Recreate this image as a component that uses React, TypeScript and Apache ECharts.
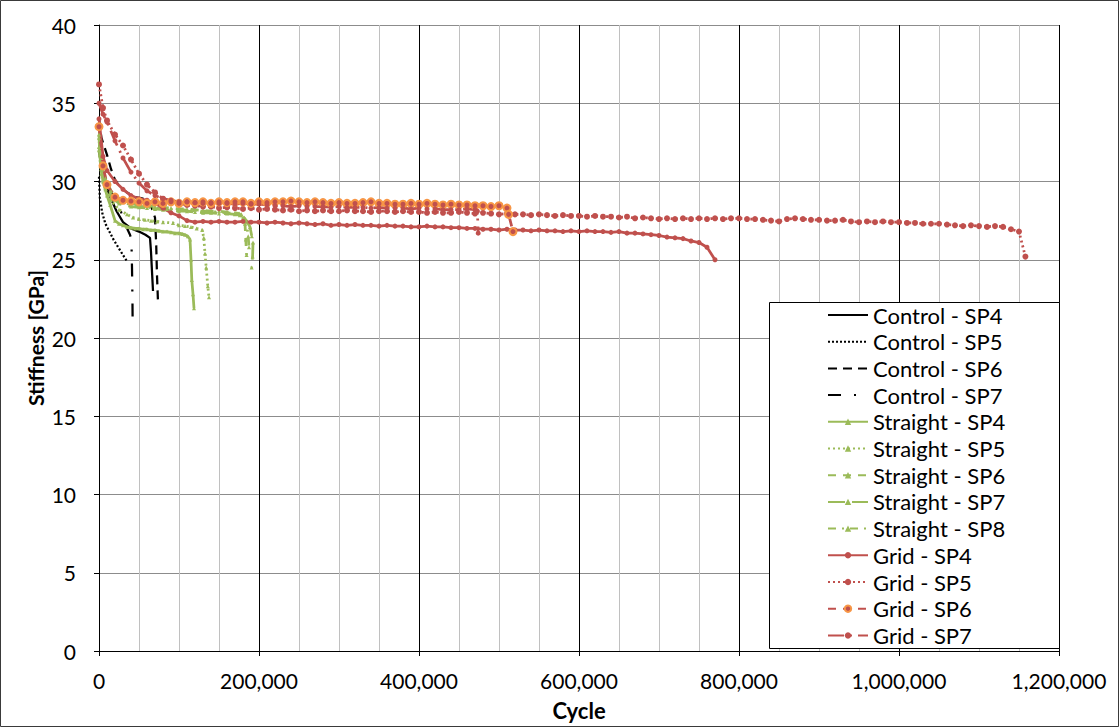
import React, { useEffect, useRef } from "react";
import * as echarts from "echarts";

type Pt = [number, number];

// ---------- axis ticks ----------
const xTickLabels = ["0", "200,000", "400,000", "600,000", "800,000", "1,000,000", "1,200,000"];
const yTickLabels = ["0", "5", "10", "15", "20", "25", "30", "35", "40"];

// ---------- Control ----------
const controlSP4: Pt[] = [[0, 32.5], [3000, 31.0], [8000, 29.8], [15000, 28.9], [22000, 28.1], [30000, 27.4], [40000, 27.0], [50000, 26.8], [58000, 26.6], [63750, 26.4], [65000, 25.5], [66500, 24.0], [67500, 23.0]];
const controlSP5: Pt[] = [[0, 30.3], [1000, 29.0], [4000, 28.0], [8000, 27.3], [12000, 26.9], [18000, 26.3], [24000, 25.8], [30000, 25.3], [35000, 24.9]];
const controlSP6: Pt[] = [[0, 34.0], [3000, 32.8], [10000, 31.7], [15000, 30.8], [20000, 30.1], [27000, 29.6], [35000, 29.3], [45000, 29.0], [55000, 28.9], [61000, 28.8], [66000, 28.3], [70000, 27.7], [71500, 26.0], [72500, 24.0], [73750, 22.3]];
const controlSP7: Pt[] = [[0, 32.0], [4000, 30.5], [10000, 29.8], [17000, 29.2], [23750, 28.6], [28000, 28.0], [32500, 27.4], [36000, 26.9], [38750, 26.6], [40500, 26.3], [41250, 24.5], [41800, 22.5], [42000, 21.3]];

// ---------- Straight ----------
const straightSP4: Pt[] = [[0, 32.8], [2000, 31.0], [5000, 30.0], [10000, 29.1], [14000, 28.5], [20000, 27.5], [25000, 27.3], [30000, 27.2], [35000, 27.1], [40000, 27.05], [45000, 27.0], [50000, 27.0], [55000, 26.95], [60000, 26.95], [65000, 26.9], [70000, 26.9], [75000, 26.85], [80000, 26.8], [85000, 26.8], [90000, 26.75], [95000, 26.7], [100000, 26.7], [104000, 26.65], [107500, 26.6], [111000, 26.5], [113750, 26.3], [115000, 25.0], [116000, 23.7], [117500, 22.8], [118750, 21.9]];
const straightSP5: Pt[] = [[0, 32.0], [3000, 30.5], [8000, 29.5], [15000, 28.8], [25000, 28.2], [35000, 27.9], [42500, 27.7], [50000, 27.6], [57500, 27.55], [65000, 27.5], [72500, 27.45], [80000, 27.4], [92500, 27.35], [100000, 27.2], [107500, 27.15], [115000, 27.1], [122000, 27.0], [129000, 26.9], [131000, 26.4], [132500, 25.4], [134000, 24.5], [136000, 23.3], [137500, 22.6]];
const straightSP6: Pt[] = [[0, 33.5], [3000, 31.5], [8000, 30.2], [15000, 29.4], [25000, 28.9], [40000, 28.6], [50000, 28.5], [60000, 28.45], [70000, 28.4], [80000, 28.35], [90000, 28.3], [100000, 28.25], [110000, 28.25], [120000, 28.2], [130000, 28.15], [140000, 28.1], [150000, 28.1], [160000, 28.05], [170000, 28.0], [175000, 27.95], [180000, 27.7], [182500, 27.3], [183500, 26.3], [184500, 25.3]];
const straightSP7: Pt[] = [[0, 32.2], [3000, 30.8], [8000, 29.6], [15000, 29.0], [25000, 28.6], [40000, 28.4], [50000, 28.35], [60000, 28.3], [70000, 28.25], [80000, 28.2], [90000, 28.15], [100000, 28.1], [110000, 28.1], [120000, 28.05], [130000, 28.0], [140000, 28.0], [150000, 27.95], [160000, 27.95], [170000, 27.9], [176000, 27.85], [183000, 27.6], [188750, 27.1], [191000, 26.5], [192500, 26.1], [192000, 25.2], [190800, 24.5]];
const straightSP8: Pt[] = [[0, 33.0], [3000, 31.2], [8000, 30.0], [15000, 29.2], [25000, 28.8], [40000, 28.5], [55000, 28.4], [70000, 28.3], [85000, 28.25], [100000, 28.2], [115000, 28.15], [130000, 28.1], [145000, 28.05], [160000, 28.0], [170000, 27.95], [178000, 27.9], [184000, 27.5], [186500, 26.5], [187500, 25.8]];

// ---------- Grid ----------
const gridSP4: Pt[] = [[0, 34.0], [5000, 31.6], [10000, 30.7], [20000, 30.0], [30000, 29.5], [40000, 29.1], [50000, 28.9], [60000, 28.8], [70000, 28.6], [80000, 28.3], [90000, 28.0], [100000, 27.8], [110000, 27.5], [120000, 27.4], [130000, 27.45], [140000, 27.4], [150000, 27.45], [160000, 27.4], [170000, 27.4], [180000, 27.45], [190000, 27.4], [200000, 27.4], [210000, 27.35], [220000, 27.4], [230000, 27.35], [240000, 27.3], [250000, 27.35], [260000, 27.3], [270000, 27.25], [280000, 27.3], [290000, 27.2], [300000, 27.25], [310000, 27.2], [320000, 27.25], [330000, 27.2], [340000, 27.2], [350000, 27.15], [360000, 27.2], [370000, 27.15], [380000, 27.15], [390000, 27.1], [400000, 27.1], [410000, 27.15], [420000, 27.1], [430000, 27.1], [440000, 27.05], [450000, 27.05], [460000, 27.0], [470000, 27.0], [480000, 26.95], [490000, 26.95], [500000, 26.9], [510000, 26.95], [520000, 26.9], [530000, 26.9], [540000, 26.85], [550000, 26.9], [560000, 26.85], [570000, 26.85], [580000, 26.8], [590000, 26.85], [600000, 26.8], [610000, 26.85], [620000, 26.8], [630000, 26.8], [640000, 26.75], [650000, 26.8], [660000, 26.7], [670000, 26.7], [680000, 26.65], [690000, 26.6], [700000, 26.55], [710000, 26.45], [720000, 26.4], [730000, 26.35], [740000, 26.2], [750000, 26.1], [760000, 25.8], [770000, 25.0]];
const gridSP5: Pt[] = [[0, 36.2], [5000, 34.7], [10000, 33.9], [20000, 33.0], [30000, 32.3], [40000, 31.4], [50000, 30.5], [60000, 29.8], [70000, 29.3], [80000, 28.9], [90000, 28.7], [100000, 28.6], [110000, 28.5], [120000, 28.45], [130000, 28.4], [140000, 28.4], [150000, 28.3], [160000, 28.35], [170000, 28.3], [180000, 28.25], [190000, 28.3], [200000, 28.2], [210000, 28.25], [220000, 28.2], [230000, 28.15], [240000, 28.2], [250000, 28.1], [260000, 28.15], [270000, 28.1], [280000, 28.15], [290000, 28.1], [300000, 28.1], [310000, 28.15], [320000, 28.1], [330000, 28.1], [340000, 28.05], [350000, 28.1], [360000, 28.1], [370000, 28.05], [380000, 28.1], [390000, 28.05], [400000, 28.05], [410000, 28.0], [420000, 28.05], [430000, 28.0], [440000, 28.0], [450000, 28.05], [460000, 28.0], [470000, 27.95], [480000, 28.0], [490000, 27.95], [500000, 27.9], [510000, 27.95], [520000, 27.9], [530000, 27.9], [540000, 27.85], [550000, 27.9], [560000, 27.85], [570000, 27.8], [580000, 27.85], [590000, 27.8], [600000, 27.8], [610000, 27.75], [620000, 27.8], [630000, 27.75], [640000, 27.75], [650000, 27.7], [660000, 27.75], [670000, 27.65], [680000, 27.7], [690000, 27.65], [700000, 27.6], [710000, 27.65], [720000, 27.6], [730000, 27.65], [740000, 27.6], [750000, 27.65], [760000, 27.6], [770000, 27.65], [780000, 27.6], [790000, 27.65], [800000, 27.65], [810000, 27.6], [820000, 27.6], [830000, 27.55], [840000, 27.5], [850000, 27.45], [860000, 27.6], [870000, 27.65], [880000, 27.6], [890000, 27.55], [900000, 27.55], [910000, 27.5], [920000, 27.5], [930000, 27.55], [940000, 27.45], [950000, 27.4], [960000, 27.45], [970000, 27.4], [980000, 27.45], [990000, 27.4], [1000000, 27.4], [1010000, 27.35], [1020000, 27.35], [1030000, 27.3], [1040000, 27.3], [1050000, 27.3], [1060000, 27.25], [1070000, 27.2], [1080000, 27.15], [1090000, 27.2], [1100000, 27.15], [1110000, 27.1], [1120000, 27.15], [1130000, 27.1], [1140000, 26.95], [1150000, 26.8], [1158000, 25.2]];
const gridSP6: Pt[] = [[0, 33.5], [5000, 31.0], [10000, 29.8], [20000, 29.0], [30000, 28.8], [40000, 28.75], [50000, 28.7], [60000, 28.6], [70000, 28.7], [80000, 28.6], [90000, 28.7], [100000, 28.6], [110000, 28.7], [120000, 28.65], [130000, 28.7], [140000, 28.6], [150000, 28.7], [160000, 28.65], [170000, 28.7], [180000, 28.7], [190000, 28.6], [200000, 28.7], [210000, 28.65], [220000, 28.7], [230000, 28.7], [240000, 28.75], [250000, 28.7], [260000, 28.65], [270000, 28.7], [280000, 28.65], [290000, 28.6], [300000, 28.65], [310000, 28.6], [320000, 28.6], [330000, 28.65], [340000, 28.7], [350000, 28.6], [360000, 28.6], [370000, 28.55], [380000, 28.55], [390000, 28.6], [400000, 28.55], [410000, 28.6], [420000, 28.55], [430000, 28.5], [440000, 28.55], [450000, 28.5], [460000, 28.5], [470000, 28.45], [480000, 28.45], [490000, 28.4], [500000, 28.45], [510000, 28.3], [512000, 27.9], [517500, 26.8]];
const gridSP7: Pt[] = [[0, 35.0], [5000, 34.3], [10000, 33.8], [20000, 32.6], [30000, 31.5], [40000, 30.6], [50000, 29.9], [60000, 29.4], [70000, 29.1], [80000, 28.9], [90000, 28.8], [100000, 28.7], [110000, 28.7], [120000, 28.65], [130000, 28.6], [140000, 28.65], [150000, 28.6], [160000, 28.6], [170000, 28.55], [180000, 28.6], [190000, 28.55], [200000, 28.55], [210000, 28.5], [220000, 28.45], [230000, 28.45], [240000, 28.4], [250000, 28.45], [260000, 28.4], [270000, 28.4], [280000, 28.4], [290000, 28.35], [300000, 28.4], [310000, 28.35], [320000, 28.35], [330000, 28.35], [340000, 28.3], [350000, 28.35], [360000, 28.3], [370000, 28.3], [380000, 28.3], [390000, 28.25], [400000, 28.3], [410000, 28.25], [420000, 28.25], [430000, 28.2], [440000, 28.2], [450000, 28.2], [460000, 28.25], [470000, 28.2], [473000, 28.1], [474000, 26.7]];

const BLACK = "#000000";
const GREEN = "#9BBB59";
const RED = "#C0504D";
const ORANGE = "#F79646";
const FONT = "Lato, 'Open Sans', sans-serif";

function line(name: string, data: Pt[], color: string, dash: number[] | "solid", width: number, symbol: string, size: number, item?: any) {
  return {
    name,
    type: "line",
    data,
    showSymbol: symbol !== "none",
    symbol,
    symbolSize: size,
    lineStyle: { color, width, type: dash, cap: "butt" },
    itemStyle: item || { color, borderWidth: 0 },
    emphasis: { disabled: true },
    z: 3,
  };
}

export default function App() {
  const ref = useRef<HTMLDivElement>(null);
  useEffect(() => {
    if (!ref.current) return;
    const chart = echarts.init(ref.current, null, { renderer: "svg" });
    const series = [
      line("Control - SP4", controlSP4, BLACK, "solid", 2.25, "none", 0),
      line("Control - SP5", controlSP5, BLACK, [2, 2], 2.25, "none", 0),
      line("Control - SP6", controlSP6, BLACK, [9, 6], 2.25, "none", 0),
      line("Control - SP7", controlSP7, BLACK, [13, 13, 2, 12], 2.25, "none", 0),
      line("Straight - SP4", straightSP4, GREEN, "solid", 2.75, "triangle", 4),
      line("Straight - SP5", straightSP5, GREEN, [2, 3], 2.75, "triangle", 4),
      line("Straight - SP6", straightSP6, GREEN, [8, 7], 2.75, "triangle", 4),
      line("Straight - SP7", straightSP7, GREEN, [17, 7], 2.75, "triangle", 4),
      line("Straight - SP8", straightSP8, GREEN, [8, 6, 2, 6], 2.75, "triangle", 4),
      line("Grid - SP4", gridSP4, RED, "solid", 2.75, "circle", 5),
      line("Grid - SP5", gridSP5, RED, [2, 3], 2.75, "circle", 6),
      line("Grid - SP6", gridSP6, RED, [8, 7], 2.75, "circle", 7, { color: RED, borderColor: ORANGE, borderWidth: 2 }),
      line("Grid - SP7", gridSP7, RED, [16, 6, 2, 6], 2.75, "circle", 5),
    ];
    const legendData = series.map((s) =>
      s.symbol === "none" ? { name: s.name, itemStyle: { opacity: 0 } } : { name: s.name }
    );
    chart.setOption({
      animation: false,
      backgroundColor: "#ffffff",
      textStyle: { fontFamily: FONT },
      grid: { left: 99, right: 61, top: 25, bottom: 77, containLabel: false },
      xAxis: {
        type: "value",
        min: 0,
        max: 1200000,
        interval: 200000,
        axisLine: { show: true, onZero: false, lineStyle: { color: BLACK, width: 1 } },
        axisTick: { show: true, inside: false, length: 5, lineStyle: { color: BLACK } },
        minorTick: { show: false, splitNumber: 4 },
        minorSplitLine: { show: true, lineStyle: { color: "#C0C0C0", width: 1 } },
        splitLine: { show: true, lineStyle: { color: BLACK, width: 1 } },
        axisLabel: {
          margin: 19,
          fontSize: 21,
          color: BLACK,
          fontFamily: FONT,
          formatter: (v: number) => xTickLabels[Math.round(v / 200000)] ?? "",
        },
      },
      yAxis: {
        type: "value",
        min: 0,
        max: 40,
        interval: 5,
        axisLine: { show: true, onZero: false, lineStyle: { color: BLACK, width: 1 } },
        axisTick: { show: true, inside: false, length: 5, lineStyle: { color: BLACK } },
        splitLine: { show: true, lineStyle: { color: "#8C8C8C", width: 1 } },
        axisLabel: {
          margin: 23,
          fontSize: 21,
          color: BLACK,
          fontFamily: FONT,
          formatter: (v: number) => yTickLabels[Math.round(v / 5)] ?? "",
        },
      },
      legend: {
        show: true,
        orient: "vertical",
        left: 827,
        top: 304,
        padding: 0,
        itemWidth: 40,
        itemHeight: 8,
        itemGap: 4.7,
        selectedMode: false,
        z: 10,
        textStyle: { fontSize: 22, lineHeight: 22, color: BLACK, fontFamily: FONT },
        data: legendData,
      },
      graphic: [
        {
          type: "rect",
          z: 5,
          shape: { x: 769.5, y: 302.5, width: 290, height: 346 },
          style: { fill: "#ffffff", stroke: BLACK, lineWidth: 1 },
        },
        {
          type: "rect",
          z: 6,
          shape: { x: 0.5, y: 0.5, width: 1118, height: 726 },
          style: { fill: "none", stroke: "#3a3a3a", lineWidth: 1 },
        },
        {
          type: "text",
          z: 6,
          x: 579,
          y: 710,
          style: { text: "Cycle", fontSize: 22, fontWeight: "bold", fontFamily: FONT, fill: BLACK, textAlign: "center", textVerticalAlign: "middle" },
        },
        {
          type: "text",
          z: 6,
          x: 35,
          y: 338,
          rotation: Math.PI / 2,
          style: { text: "Stiffness [GPa]", fontSize: 21, fontWeight: "bold", fontFamily: FONT, fill: BLACK, textAlign: "center", textVerticalAlign: "middle" },
        },
      ],
      series,
    });
    return () => chart.dispose();
  }, []);
  return <div ref={ref} style={{ position: "absolute", left: 0, top: 0, width: 1120, height: 728, background: "#fff" }} />;
}
